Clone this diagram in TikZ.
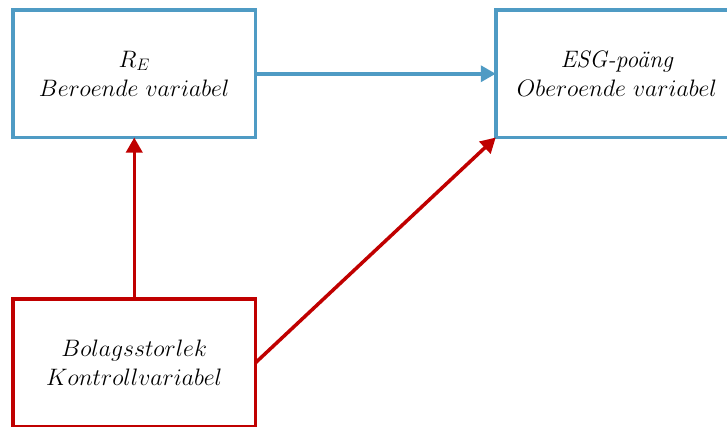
\RequirePackage{fix-cm}
\documentclass[tikz,border=0pt]{standalone}
\usetikzlibrary{arrows.meta}
\definecolor{boxblue}{RGB}{79,155,196}
\definecolor{boxred}{RGB}{192,0,0}
\begin{document}
\begin{tikzpicture}[x=1pt,y=1pt,
  varbox/.style={draw, line width=3.5pt, inner sep=0pt, outer sep=0pt,
    minimum width=242.5pt, minimum height=127.5pt, align=center,
    font=\fontsize{23.8}{29}\selectfont},
  bluearrow/.style={draw=boxblue, line width=3.5pt, -{Triangle[length=15pt,width=16pt]}},
  redarrow/.style={draw=boxred, line width=3.5pt, -{Triangle[length=15pt,width=16pt]}}
]
\useasboundingbox (0,0) rectangle (727,-426);
\node[varbox, draw=boxblue] (re) at (134.25,-73.75) {$R_E$\\$Beroende\ variabel$};
\node[varbox, draw=boxblue] (esg) at (617,-73.75) {\textit{ESG-poäng}\\$Oberoende\ variabel$};
\node[varbox, draw=boxred] (size) at (134.25,-362.75) {$Bolagsstorlek$\\$Kontrollvariabel$};
\draw[bluearrow] (re.east) -- (esg.west);
\draw[redarrow] (size.north) -- (re.south);
\draw[redarrow] (size.east) -- (esg.south west);
\end{tikzpicture}
\end{document}
